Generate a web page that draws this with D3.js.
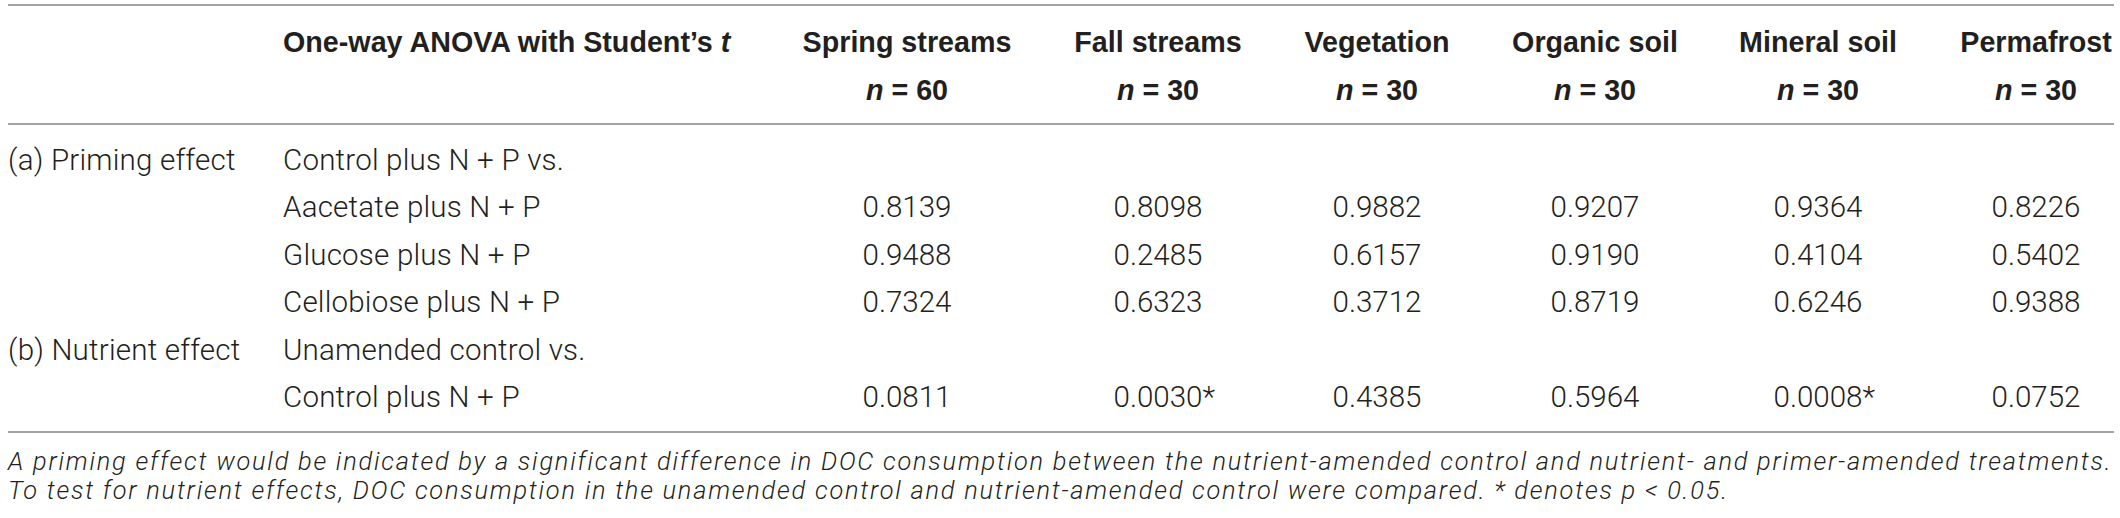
<!DOCTYPE html>
<html><head><meta charset="utf-8">
<script src="https://cdn.jsdelivr.net/npm/d3@7"></script>
<style>html,body{margin:0;padding:0;background:#fff;} svg{display:block}</style>
</head><body>
<svg id="t" width="2120" height="518"></svg>
<script>
// ---------- data ----------
const columns = ["Spring streams", "Fall streams", "Vegetation", "Organic soil", "Mineral soil", "Permafrost"];
const sampleSizes = [60, 30, 30, 30, 30, 30];
const groupLabels = ["(a) Priming effect", "", "", "", "(b) Nutrient effect", ""];
const comparisons = ["Control plus N + P vs.", "Aacetate plus N + P", "Glucose plus N + P",
                     "Cellobiose plus N + P", "Unamended control vs.", "Control plus N + P"];
const springStreams = [null, 0.8139, 0.9488, 0.7324, null, 0.0811];
const fallStreams   = [null, 0.8098, 0.2485, 0.6323, null, 0.0030];
const vegetation    = [null, 0.9882, 0.6157, 0.3712, null, 0.4385];
const organicSoil   = [null, 0.9207, 0.9190, 0.8719, null, 0.5964];
const mineralSoil   = [null, 0.9364, 0.4104, 0.6246, null, 0.0008];
const permafrost    = [null, 0.8226, 0.5402, 0.9388, null, 0.0752];
const alpha = 0.05;
const footnote1 = "A priming effect would be indicated by a significant difference in DOC consumption between the nutrient-amended control and nutrient- and primer-amended treatments.";
const footnote2a = "To test for nutrient effects, DOC consumption in the unamended control and nutrient-amended control were compared. * denotes ";
const footnote2b = "p";
const footnote2c = " < 0.05.";

const seriesByColumn = [springStreams, fallStreams, vegetation, organicSoil, mineralSoil, permafrost];

// ---------- layout ----------
const W = 2120, H = 518;
const ink = "#231f20", rule = "#a3a3a3";
const canvas = document.createElement("canvas").getContext("2d");
function measure(text, font) { canvas.font = font; return canvas.measureText(text).width; }
function fitSize(text, fontTpl, target) { return 100 * target / measure(text, fontTpl.replace("SIZE", "100px")); }

const numSize = fitSize("0.8139", "300 SIZE Roboto", 89);
const labelSpacing = (281 - measure("Control plus N + P vs.", `300 ${numSize}px Roboto`)) / "Control plus N + P vs.".length;
const headSize = fitSize("Spring streams", "bold SIZE 'Liberation Sans'", 209);
const footSize = 25.4;
const footSpacing = (2104 - measure(footnote1, `italic 300 ${footSize}px Roboto`)) / footnote1.length;

const x = d3.scaleOrdinal().domain(columns).range([907, 1158, 1377, 1595, 1818, 2036]);
const yRow = d3.scaleLinear().domain([0, comparisons.length - 1]).range([169.5, 407]);
const yHead = d3.scaleOrdinal().domain(["title", "n"]).range([52, 100]);
const xGroup = 8, xComp = 283;

const svg = d3.select("#t");
svg.append("rect").attr("width", W).attr("height", H).attr("fill", "#fff");

// rules
svg.selectAll("line.rule").data([5, 124, 432]).join("line")
  .attr("class", "rule").attr("x1", 8).attr("x2", 2114)
  .attr("y1", d => d).attr("y2", d => d)
  .attr("stroke", rule).attr("stroke-width", 2.2);

// header
const head = svg.append("g").attr("font-family", "'Liberation Sans', Arial, sans-serif").attr("font-weight", "bold")
  .attr("font-size", headSize).attr("fill", ink);
const t0 = head.append("text").attr("x", xComp).attr("y", yHead("title"));
t0.append("tspan").text("One-way ANOVA with Student\u2019s ");
t0.append("tspan").attr("font-style", "italic").text("t");

head.selectAll("text.col").data(columns).join("text").attr("class", "col")
  .attr("x", d => x(d)).attr("y", yHead("title"))
  .attr("text-anchor", "middle").text(d => d);

const nt = head.selectAll("text.n").data(columns.map((c, i) => ({c, n: sampleSizes[i]}))).join("text")
  .attr("class", "n").attr("x", d => x(d.c)).attr("y", yHead("n"))
  .attr("text-anchor", "middle");
nt.append("tspan").attr("font-style", "italic").text("n");
nt.append("tspan").text(d => " = " + d.n);

// body
const body = svg.append("g").attr("font-family", "Roboto").attr("font-weight", 300)
  .attr("font-size", numSize).attr("fill", ink);
body.selectAll("text.grp").data(groupLabels.map((g, i) => ({g, i})).filter(d => d.g)).join("text")
  .attr("class", "grp").attr("x", xGroup).attr("y", d => yRow(d.i))
  .attr("letter-spacing", labelSpacing).text(d => d.g);
body.selectAll("text.cmp").data(comparisons).join("text")
  .attr("class", "cmp").attr("x", xComp).attr("y", (d, i) => yRow(i))
  .attr("letter-spacing", labelSpacing).text(d => d);

const fmt = d3.format(".4f");
const cells = [];
seriesByColumn.forEach((vals, ci) => vals.forEach((v, ri) => { if (v !== null) cells.push({c: columns[ci], r: ri, v}); }));
const cellG = body.selectAll("g.cell").data(cells).join("g").attr("class", "cell");
cellG.append("text").attr("x", d => x(d.c)).attr("y", d => yRow(d.r))
  .attr("text-anchor", "middle").text(d => fmt(d.v));
cellG.filter(d => d.v < alpha).append("text")
  .attr("x", d => x(d.c) + measure(fmt(d.v), `300 ${numSize}px Roboto`) / 2)
  .attr("y", d => yRow(d.r)).text("*");

// footnotes
const foot = svg.append("g").attr("font-family", "Roboto").attr("font-weight", 300)
  .attr("font-style", "italic").attr("font-size", footSize).attr("fill", ink)
  .attr("letter-spacing", footSpacing);
foot.append("text").attr("x", 8).attr("y", 470).text(footnote1);
const f2 = foot.append("text").attr("x", 8).attr("y", 499);
f2.append("tspan").text(footnote2a);
f2.append("tspan").text(footnote2b);
f2.append("tspan").text(footnote2c);
</script>
</body></html>
